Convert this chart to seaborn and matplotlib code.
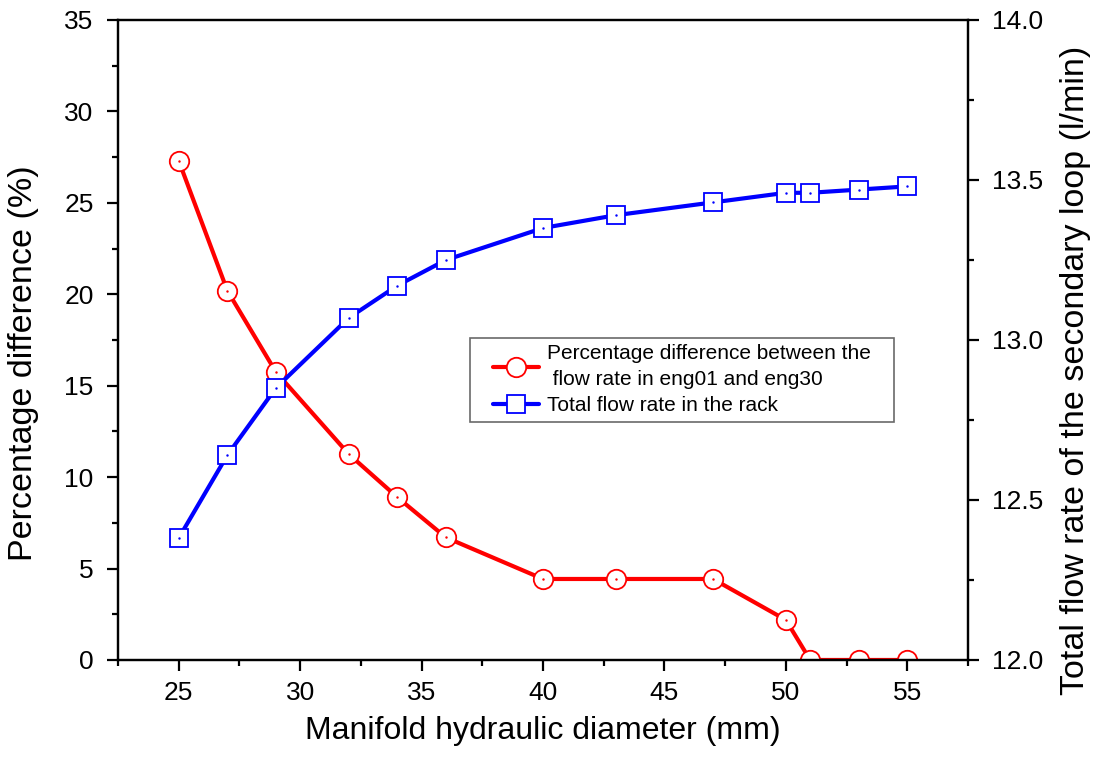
import matplotlib
matplotlib.use("Agg")
import matplotlib.pyplot as plt
from matplotlib.ticker import MultipleLocator, FormatStrFormatter
from matplotlib.legend_handler import HandlerLine2D
import seaborn as sns
import pandas as pd

diameter = [25, 27, 29, 32, 34, 36, 40, 43, 47, 50, 51, 53, 55]
pct_diff = [27.3, 20.2, 15.75, 11.26, 8.9, 6.7, 4.43, 4.43, 4.43, 2.19, 0.0, 0.0, 0.0]
total_flow = [12.381, 12.64, 12.85, 13.069, 13.17, 13.25, 13.35, 13.39, 13.43, 13.46, 13.46, 13.47, 13.48]

label_pct = "Percentage difference between the   \n flow rate in eng01 and eng30"
label_flow = "Total flow rate in the rack"

df = pd.DataFrame({"d": diameter, "pct": pct_diff, "flow": total_flow})

sns.set_style("ticks")
plt.rcParams["font.family"] = ["Liberation Sans", "DejaVu Sans"]
plt.rcParams.update({
    "axes.linewidth": 1.6,
    "text.color": "black",
    "axes.labelcolor": "black",
    "xtick.color": "black",
    "ytick.color": "black",
})

fig = plt.figure(figsize=(10.99, 7.72), dpi=100)
ax = fig.add_axes([0.1074, 0.1451, 0.7734, 0.829])
ax2 = ax.twinx()

sns.lineplot(data=df, x="d", y="pct", ax=ax, color="red", linewidth=3,
             marker="o", markersize=14, markerfacecolor="white",
             markeredgecolor="red", markeredgewidth=1.3, label=label_pct,
             legend=False)
sns.lineplot(data=df, x="d", y="flow", ax=ax2, color="blue", linewidth=3,
             marker="s", markersize=13, markerfacecolor="white",
             markeredgecolor="blue", markeredgewidth=1.3, label=label_flow,
             legend=False)
# tiny centre dots inside the open markers
ax.plot(df["d"], df["pct"], ls="none", marker=".", ms=1.5, color="red")
ax2.plot(df["d"], df["flow"], ls="none", marker=".", ms=1.5, color="blue")

ax.set_xlim(22.5, 57.5)
ax.set_ylim(0, 35)
ax2.set_ylim(12.0, 14.0)
ax.xaxis.set_major_locator(MultipleLocator(5))
ax.xaxis.set_minor_locator(MultipleLocator(2.5))
ax.yaxis.set_major_locator(MultipleLocator(5))
ax.yaxis.set_minor_locator(MultipleLocator(2.5))
ax2.yaxis.set_major_locator(MultipleLocator(0.5))
ax2.yaxis.set_minor_locator(MultipleLocator(0.25))
ax2.yaxis.set_major_formatter(FormatStrFormatter("%.1f"))

for a in (ax, ax2):
    a.tick_params(which="major", direction="out", length=8, width=1.6,
                  labelsize=19, pad=9.5)
    a.tick_params(which="minor", direction="out", length=4.5, width=1.6)
    for s in a.spines.values():
        s.set_visible(True)
        s.set_color("black")
ax.tick_params(axis="x", which="major", pad=7)

ax.set_xlabel("Manifold hydraulic diameter (mm)", fontsize=23, labelpad=8)
ax.set_ylabel("Percentage difference (%)", fontsize=24.5)
ax2.set_ylabel("Total flow rate of the secondary loop (l/min)", fontsize=24.5)
ax.yaxis.set_label_coords(-0.093, 0.463)
ax2.yaxis.set_label_coords(1.108, 0.452)

h1, l1 = ax.get_legend_handles_labels()
h2, l2 = ax2.get_legend_handles_labels()
shift = HandlerLine2D(xpad=0.8)
leg = ax2.legend(h1 + h2, l1 + l2, loc="upper left",
                 bbox_to_anchor=(0.4141, 0.5031), borderaxespad=0,
                 fontsize=15, frameon=True, fancybox=False,
                 edgecolor="#444444", handlelength=3.0, handletextpad=0.4,
                 borderpad=0.3, labelspacing=0.35,
                 handler_map={h1[0]: shift, h2[0]: shift})
leg.get_frame().set_linewidth(1.2)
for t in leg.get_texts():
    t.set_linespacing(1.45)

fig.savefig("out.png", dpi=100)
